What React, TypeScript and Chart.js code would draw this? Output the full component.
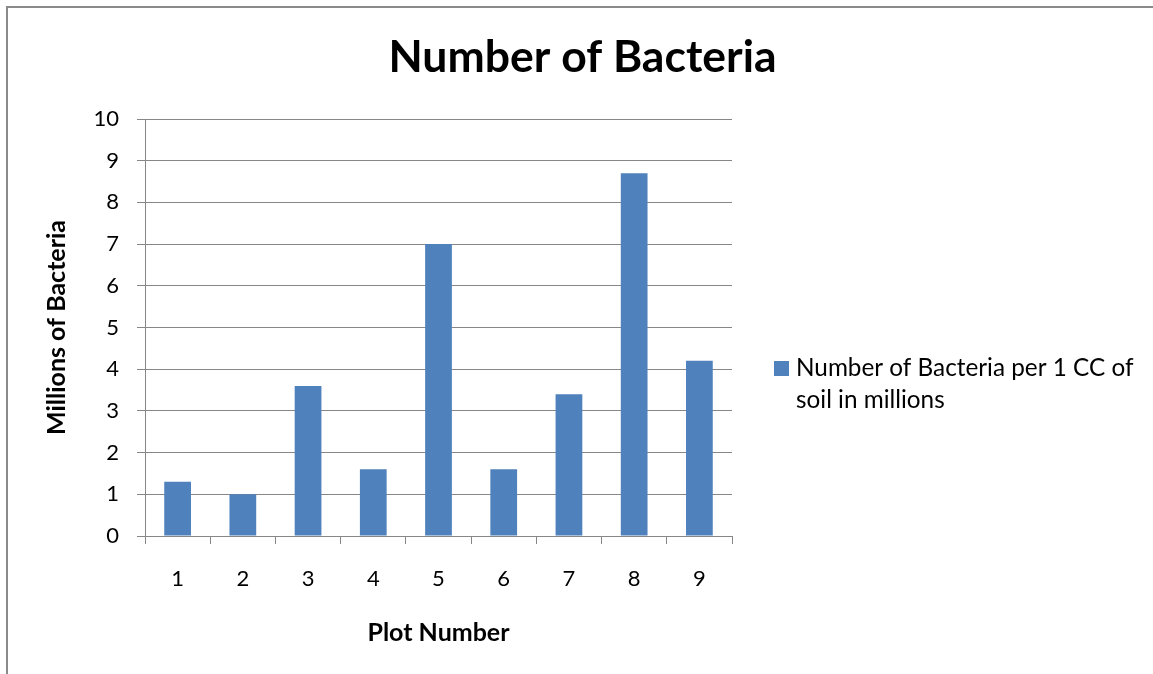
import { useEffect, useRef } from "react";
import { Chart, registerables } from "chart.js";

Chart.register(...registerables);

// Data
const plotNumbers = ["1", "2", "3", "4", "5", "6", "7", "8", "9"];
const bacteriaMillions = [1.3, 1.0, 3.6, 1.6, 7.0, 1.6, 3.4, 8.7, 4.2];
const seriesLabel = "Number of Bacteria per 1 CC of soil in millions";
const chartTitle = "Number of Bacteria";
const yAxisTitle = "Millions of Bacteria";
const xAxisTitle = "Plot Number";
const yMin = 0;
const yMax = 10;
const yStep = 1;

const FONT = "Lato, 'Open Sans', sans-serif";
const BAR_COLOR = "#4F81BD";
const GRID_COLOR = "#878787";

// Outer frame of the chart object
const framePlugin = {
  id: "frame",
  beforeDraw(chart: any) {
    const ctx = chart.ctx;
    ctx.save();
    ctx.fillStyle = "#ffffff";
    ctx.fillRect(0, 0, chart.width, chart.height);
    ctx.strokeStyle = "#8a8a8a";
    ctx.lineWidth = 2;
    ctx.strokeRect(7, 7, chart.width + 20, chart.height + 20);
    ctx.restore();
  },
};

// Legend on the right with wrapped label text
const sideLegendPlugin = {
  id: "sideLegend",
  afterDraw(chart: any) {
    const ctx = chart.ctx;
    const area = chart.chartArea;
    const ds = chart.data.datasets[0];
    const fontSize = 24.3;
    const maxWidth = 345;
    ctx.save();
    ctx.font = `${fontSize}px ${FONT}`;
    const words = String(ds.label).split(" ");
    const lines: string[] = [];
    let cur = "";
    for (const w of words) {
      const test = cur ? cur + " " + w : w;
      if (ctx.measureText(test).width > maxWidth && cur) {
        lines.push(cur);
        cur = w;
      } else {
        cur = test;
      }
    }
    if (cur) lines.push(cur);

    const boxX = area.right + 42;
    const boxY = 361;
    const boxSize = 15;
    ctx.fillStyle = ds.backgroundColor;
    ctx.fillRect(boxX, boxY, boxSize, boxSize);

    ctx.fillStyle = "#000000";
    ctx.textAlign = "left";
    ctx.textBaseline = "alphabetic";
    const textX = boxX + 22;
    const firstBaseline = 376;
    const lineGap = 32;
    lines.forEach((line, i) => {
      ctx.fillText(line, textX, firstBaseline + i * lineGap);
    });
    ctx.restore();
  },
};

export default function App() {
  const canvasRef = useRef<HTMLCanvasElement | null>(null);

  useEffect(() => {
    if (!canvasRef.current) return;
    const chart = new Chart(canvasRef.current, {
      type: "bar",
      data: {
        labels: plotNumbers,
        datasets: [
          {
            label: seriesLabel,
            data: bacteriaMillions,
            backgroundColor: BAR_COLOR,
            borderWidth: 0,
            barPercentage: 0.41,
            categoryPercentage: 1,
          },
        ],
      },
      options: {
        responsive: false,
        animation: false,
        devicePixelRatio: 1,
        layout: { padding: { left: 12, right: 0, top: 0, bottom: 0 } },
        plugins: {
          legend: { display: false },
          tooltip: { enabled: false },
          title: {
            display: true,
            text: chartTitle,
            color: "#000000",
            font: { family: FONT, size: 44.5, weight: "bold" },
            padding: { top: 31.4, bottom: 34.2 },
          },
        },
        scales: {
          x: {
            type: "category",
            offset: true,
            grid: {
              offset: true,
              drawOnChartArea: false,
              drawTicks: true,
              tickLength: 8,
              color: GRID_COLOR,
            },
            border: { display: true, color: GRID_COLOR, width: 1 },
            ticks: {
              color: "#000000",
              font: { family: FONT, size: 22 },
              padding: 22,
            },
            title: {
              display: true,
              text: xAxisTitle,
              color: "#000000",
              font: { family: FONT, size: 25, weight: "bold" },
              padding: { top: 0, bottom: 26 },
            },
            afterFit(scale: any) {
              scale.height = 138;
            },
          },
          y: {
            type: "linear",
            min: yMin,
            max: yMax,
            grid: {
              color: GRID_COLOR,
              tickLength: 8,
              lineWidth: 1,
            },
            border: { display: true, color: GRID_COLOR, width: 1 },
            ticks: {
              stepSize: yStep,
              color: "#000000",
              font: { family: FONT, size: 22 },
              padding: 18,
            },
            title: {
              display: true,
              text: yAxisTitle,
              color: "#000000",
              font: { family: FONT, size: 25, weight: "bold" },
              padding: { top: 30, bottom: 0 },
            },
            afterFit(scale: any) {
              scale.width = 133;
            },
          },
          legendSpace: {
            type: "linear",
            position: "right",
            grid: { display: false, drawTicks: false },
            border: { display: false },
            ticks: { display: false },
            afterFit(scale: any) {
              scale.width = 421;
            },
          },
        },
      },
      plugins: [framePlugin, sideLegendPlugin],
    } as any);
    return () => chart.destroy();
  }, []);

  return (
    <div style={{ position: "absolute", left: 0, top: 0, width: 1153, height: 674 }}>
      <canvas ref={canvasRef} width={1153} height={674} style={{ display: "block" }} />
    </div>
  );
}
